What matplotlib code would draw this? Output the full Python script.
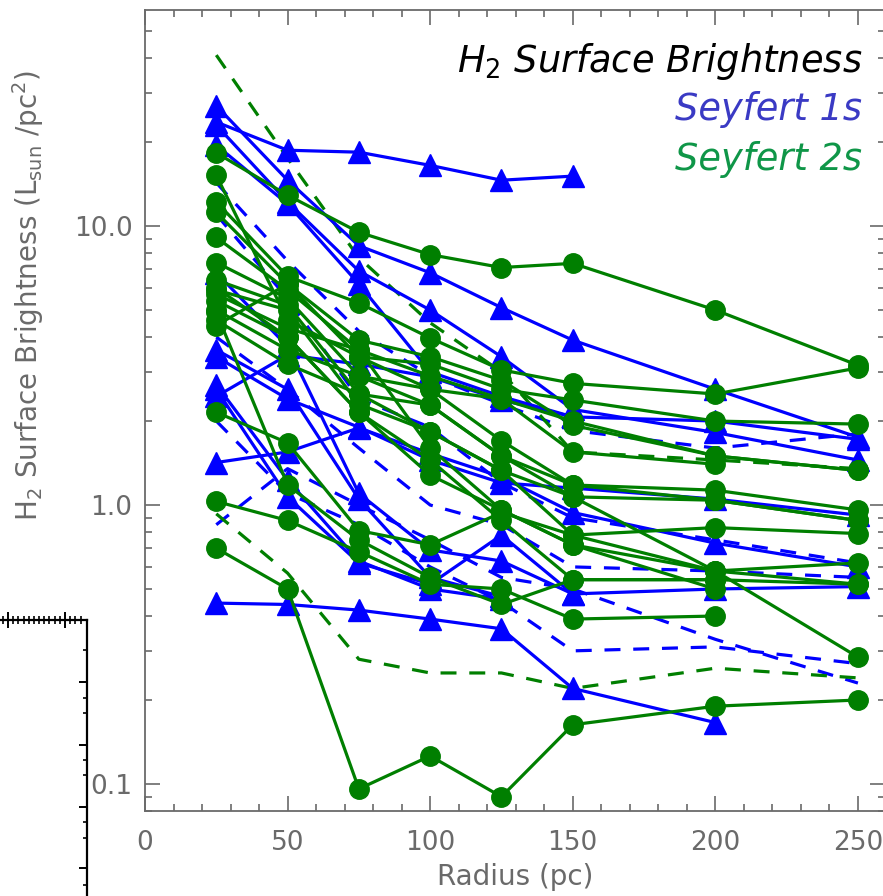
import numpy as np
import matplotlib
matplotlib.use("Agg")
import matplotlib.pyplot as plt
from matplotlib.ticker import FixedLocator, FixedFormatter, NullFormatter, LogLocator, MultipleLocator

nan = np.nan
radius = [25, 50, 75, 100, 125, 150, 200, 250]

# Seyfert 1 profiles (solid, triangles)
sy1_solid = [
    [23.6, 18.7, 18.4, 16.5, 14.6, 15.1, nan, nan],
    [27.0, 14.6, 8.5, 6.8, 5.1, 3.9, 2.6, 1.75],
    [23.0, 12.2, 6.9, 5.0, 3.4, 2.2, 1.82, 1.45],
    [19.5, 12.0, 6.2, 3.0, 2.45, 2.07, nan, nan],
    [6.8, 3.7, 1.1, 0.69, 0.63, 0.48, 0.50, 0.51],
    [3.6, 2.6, 1.05, 0.55, 0.47, nan, nan, nan],
    [2.7, 1.23, 0.63, 0.50, 0.46, nan, nan, nan],
    [1.42, 1.55, 1.89, 1.53, 1.26, 0.94, 0.73, 0.60],
    [0.445, 0.44, 0.42, 0.39, 0.36, 0.22, 0.166, nan],
    [2.45, 3.45, 3.2, 2.88, 2.38, 2.07, 2.0, 1.72],
    [3.4, 2.4, 1.9, 1.45, 1.2, 1.15, 1.05, 0.92],
    [2.6, 1.07, 0.62, 0.52, 0.78, 0.48, nan, nan],
]
# Seyfert 1 profiles (dashed, no symbols)
sy1_dashed = [
    [14.3, 7.5, 4.2, 2.9, 2.3, 1.85, 1.6, 1.8],
    [11.0, 5.5, 2.4, 1.9, 1.2, 0.9, 0.75, 0.62],
    [2.0, 1.1, 0.85, 0.6, 0.45, 0.30, 0.31, 0.27],
    [0.85, 1.35, 1.0, 0.75, 0.55, 0.5, 0.33, 0.23],
    [4.0, 2.6, 1.6, 1.0, 0.85, 0.6, 0.58, 0.55],
]
# Seyfert 2 profiles (solid, circles)
sy2_solid = [
    [18.3, 12.9, 9.5, 7.9, 7.1, 7.35, 5.0, 3.17],
    [15.2, 4.6, 3.4, 3.2, 2.6, 2.38, 2.0, 1.95],
    [12.2, 6.6, 5.3, 3.97, 3.05, 2.73, 2.5, 3.1],
    [11.2, 6.2, 3.9, 3.4, 2.8, 1.93, 1.5, 1.33],
    [9.1, 5.9, 3.6, 2.9, 2.4, 1.55, 1.4, nan],
    [7.4, 5.5, 2.9, 2.6, 1.7, 1.18, 1.13, 0.96],
    [6.4, 5.2, 2.5, 2.28, 1.5, 1.07, 1.04, 0.88],
    [5.9, 5.0, 2.3, 1.83, 1.33, 0.78, 0.83, 0.79],
    [5.7, 4.3, 3.6, 1.6, 0.96, 0.72, 0.58, 0.62],
    [5.4, 4.0, 2.15, 1.45, 0.88, 0.54, 0.54, 0.52],
    [5.0, 3.6, 2.9, 2.28, 1.5, 1.18, 1.04, 0.88],
    [4.6, 3.2, 2.5, 1.83, 1.33, 1.07, 0.58, 0.285],
    [4.4, 6.2, 3.4, 2.6, 2.4, 2.0, 1.5, 1.33],
    [4.9, 1.18, 0.75, 0.55, 0.44, 0.54, 0.54, nan],
    [2.15, 1.67, 0.81, 0.72, 0.94, 0.78, 0.58, 0.52],
    [1.03, 0.88, 0.68, 0.52, 0.50, 0.39, 0.40, nan],
    [0.70, 0.50, 0.096, 0.126, 0.09, 0.163, 0.19, 0.20],
    [6.0, 4.0, 2.15, 1.28, 0.96, 0.72, 0.50, nan],
]
# Seyfert 2 profiles (dashed, no symbols)
sy2_dashed = [
    [41.0, 17.5, 7.7, 4.5, 3.0, 1.55, 1.45, 1.35],
    [0.93, 0.57, 0.28, 0.25, 0.25, 0.22, 0.26, 0.24],
]

BLUE = "#0000ff"
GREEN = "#007f00"
GREY = "#6a6a6a"

W, H = 883, 896
fig = plt.figure(figsize=(W / 100, H / 100), dpi=100)

# partial neighbouring panel in the lower-left corner (axes units = pixels)
p_left, p_right, p_top, p_bottom = -441.5, 86.5, 620.5, 1165.0
ax0 = fig.add_axes([p_left / W, (H - p_bottom) / H, (p_right - p_left) / W, (p_bottom - p_top) / H])
ax0.set_xlim(p_left, p_right)
ax0.set_ylim(p_bottom, p_top)
for s in ("left", "bottom"):
    ax0.spines[s].set_visible(False)
for s in ("top", "right"):
    ax0.spines[s].set_color("black")
    ax0.spines[s].set_linewidth(1.6)
ax0.xaxis.set_ticks_position("top")
ax0.yaxis.set_ticks_position("right")
ax0.set_xticks([8.0, 65.0])
ax0.set_xticks(np.concatenate([8.0 - 5.18 * np.arange(1, 3), 8.0 + 5.18 * np.arange(1, 11),
                               65.0 + 5.18 * np.arange(1, 4)]), minor=True)
ax0.set_yticks([682, 745, 807, 868])
ax0.set_yticks([650, 698, 713, 760, 775, 822, 838, 885], minor=True)
ax0.tick_params(axis="x", which="major", direction="inout", length=11, width=1.4, color="black",
                labeltop=False, labelbottom=False)
ax0.tick_params(axis="x", which="minor", direction="inout", length=6, width=1.2, color="black")
ax0.tick_params(axis="y", which="major", direction="in", length=6, width=1.4, color="black",
                labelright=False, labelleft=False)
ax0.tick_params(axis="y", which="minor", direction="in", length=3, width=1.2, color="black")
ax0.patch.set_alpha(0)

# main panel
left, right, top, bottom = 145, 885, 10, 811
ax = fig.add_axes([left / W, (H - bottom) / H, (right - left) / W, (bottom - top) / H])
ax.set_yscale("log")
ax.set_xlim(0, 259.5)
ax.set_ylim(0.08, 59.5)

for v in sy1_dashed:
    ax.plot(radius, v, color=BLUE, lw=2.3, ls=(0, (5, 4)))
for v in sy2_dashed:
    ax.plot(radius, v, color=GREEN, lw=2.3, ls=(0, (5, 4)))
for v in sy1_solid:
    ax.plot(radius, v, color=BLUE, lw=2.3, marker="^", ms=16, mec=BLUE, mfc=BLUE)
for v in sy2_solid:
    ax.plot(radius, v, color=GREEN, lw=2.3, marker="o", ms=14, mec=GREEN, mfc=GREEN)

for s in ax.spines.values():
    s.set_color(GREY)
    s.set_linewidth(1.3)

ax.xaxis.set_major_locator(MultipleLocator(50))
ax.xaxis.set_minor_locator(MultipleLocator(10))
ax.yaxis.set_major_locator(FixedLocator([0.1, 1.0, 10.0]))
ax.yaxis.set_major_formatter(FixedFormatter(["0.1", "1.0", "10.0"]))
ax.yaxis.set_minor_locator(LogLocator(base=10, subs=np.arange(2, 10)))
ax.yaxis.set_minor_formatter(NullFormatter())
ax.tick_params(which="both", direction="in", top=True, right=True, color=GREY, width=1.2,
               labelcolor=GREY, labelsize=19)
ax.tick_params(which="major", length=11)
ax.tick_params(which="minor", length=5)
ax.tick_params(axis="x", pad=14)
ax.tick_params(axis="y", pad=9)

ax.set_xlabel("Radius (pc)", color=GREY, fontsize=20, labelpad=5)
ax.set_ylabel(r"H$_2$ Surface Brightness (L$_{\rm sun}$ /pc$^2$)", color=GREY, fontsize=20)
ax.yaxis.set_label_coords(-0.134, 0.644)

fig.text(862 / W, 1 - 61 / H, r"$H_2$ Surface Brightness", ha="right", va="center",
         fontsize=26.5, style="italic", color="black")
fig.text(862 / W, 1 - 109 / H, "Seyfert 1s", ha="right", va="center",
         fontsize=26.5, style="italic", color="#3a3ac4")
fig.text(862 / W, 1 - 159 / H, "Seyfert 2s", ha="right", va="center",
         fontsize=26.5, style="italic", color="#0f9648")

fig.savefig("out.png", dpi=100)
